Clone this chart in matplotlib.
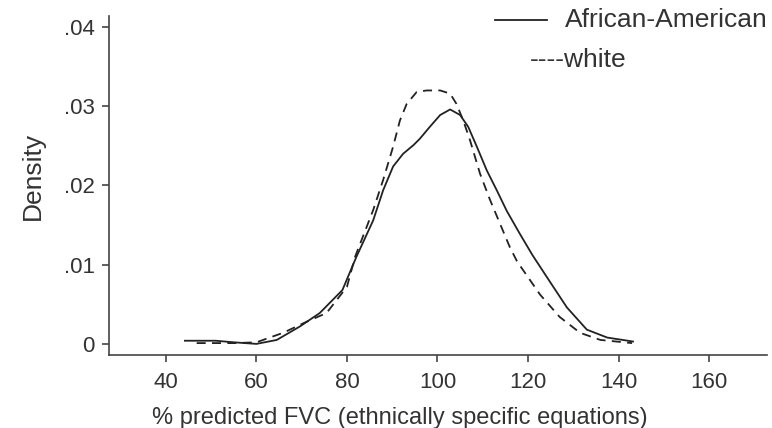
from matplotlib import pyplot as plt
from matplotlib.lines import Line2D

plt.rcParams['font.family'] = ['Liberation Sans', 'DejaVu Sans']

# kernel density, African-American (solid)
aa_x = [44.2, 51.0, 55.0, 60.0, 64.5, 69.6, 74.0, 79.0, 82.1, 85.8, 88.0, 90.2,
        92.4, 94.7, 96.1, 98.3, 100.6, 102.8, 105.0, 106.8, 108.7, 110.9, 113.1,
        115.3, 118.2, 121.0, 124.9, 128.6, 133.0, 137.5, 143.2]
aa_y = [0.0004, 0.0004, 0.0002, 0.0000, 0.0005, 0.0022, 0.0039, 0.0068, 0.0110,
        0.0156, 0.0194, 0.0224, 0.0240, 0.0251, 0.0259, 0.0274, 0.0289, 0.0296,
        0.0289, 0.0274, 0.0249, 0.0219, 0.0194, 0.0168, 0.0139, 0.0112, 0.0078,
        0.0046, 0.0018, 0.0008, 0.0003]

# kernel density, white (dashed)
wh_x = [46.8, 55.0, 60.0, 65.9, 71.1, 75.5, 80.0, 81.8, 85.8, 88.0, 90.2, 91.7,
        93.2, 95.4, 97.6, 100.6, 102.8, 104.2, 105.7, 107.2, 109.4, 111.6, 113.8,
        116.0, 117.6, 122.7, 127.0, 131.5, 136.0, 143.0]
wh_y = [0.0001, 0.0001, 0.0002, 0.0014, 0.0028, 0.0039, 0.0072, 0.0110, 0.0169,
        0.0207, 0.0249, 0.0282, 0.0303, 0.0318, 0.0320, 0.0320, 0.0316, 0.0303,
        0.0282, 0.0257, 0.0215, 0.0182, 0.0152, 0.0122, 0.0104, 0.0062, 0.0034,
        0.0014, 0.0005, 0.0001]

x_ticks = [40, 60, 80, 100, 120, 140, 160]
y_ticks = [0, 0.01, 0.02, 0.03, 0.04]
y_tick_labels = ['0', '.01', '.02', '.03', '.04']

fig = plt.figure(figsize=(7.72, 4.28), dpi=100)
ax = fig.add_axes([0.141, 0.1706, 0.8525, 0.792])

ink = '#222222'
ax.plot(aa_x, aa_y, color=ink, linewidth=1.3, linestyle='-')
ax.plot(wh_x, wh_y, color=ink, linewidth=1.3, linestyle=(0, (5, 3.5)))

ax.set_xlim(27.4, 172.8)
ax.set_ylim(-0.0014, 0.0414)
ax.set_xticks(x_ticks)
ax.set_yticks(y_ticks)
ax.set_yticklabels(y_tick_labels)

for side in ['top', 'right']:
    ax.spines[side].set_visible(False)
for side in ['left', 'bottom']:
    ax.spines[side].set_color('#444444')
    ax.spines[side].set_linewidth(1.2)

ax.tick_params(axis='both', colors='#444444', labelcolor='#333333',
               labelsize=16, length=5, width=1.2)
ax.tick_params(axis='x', pad=7)
ax.tick_params(axis='y', pad=5)

ax.set_xlabel('% predicted FVC (ethnically specific equations)',
              fontsize=17, color='#333333', labelpad=10)
ax.xaxis.label.set_x(0.442)
ax.set_ylabel('Density', fontsize=19, color='#333333', labelpad=14)
ax.yaxis.label.set_y(0.527)

# legend drawn by hand, as in the original
fig.add_artist(Line2D([495 / 772, 547 / 772], [1 - 20 / 428, 1 - 20 / 428],
                      color=ink, linewidth=1.3))
fig.text(565 / 772, 1 - 20 / 428, 'African-American', fontsize=19,
         color='#333333', ha='left', va='center')
fig.text(530 / 772, 1 - 60 / 428, '----white', fontsize=19,
         color='#333333', ha='left', va='center')

fig.savefig('out.png', dpi=100)
